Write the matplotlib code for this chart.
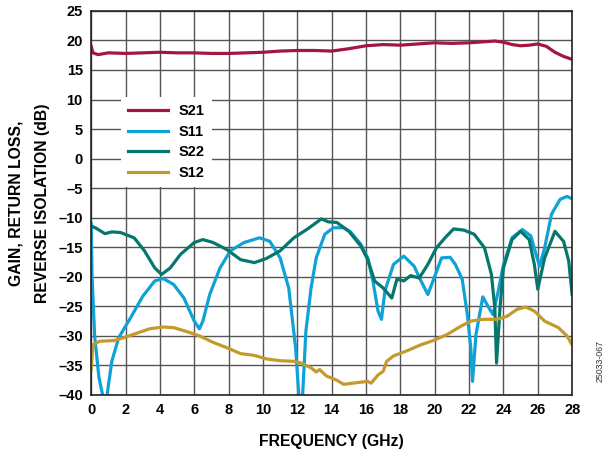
import matplotlib
matplotlib.use("Agg")
import matplotlib.pyplot as plt

plt.rcParams['font.family'] = ['Liberation Sans', 'DejaVu Sans']

# ---- data ----
s21_f = [0, 0.1, 0.4, 1, 2, 3, 4, 5, 6, 7, 8, 9, 10, 11, 12, 13, 14, 15, 16, 17, 18, 19, 20, 21, 22, 23, 23.5, 24, 24.5, 25, 25.5, 26, 26.5, 27, 27.5, 28]
s21_db = [19.0, 17.9, 17.6, 17.9, 17.8, 17.9, 18.0, 17.9, 17.9, 17.8, 17.8, 17.9, 18.0, 18.2, 18.3, 18.3, 18.2, 18.6, 19.1, 19.3, 19.2, 19.4, 19.6, 19.5, 19.6, 19.8, 19.9, 19.7, 19.3, 19.1, 19.2, 19.4, 19.0, 18.0, 17.3, 16.8]

s11_f = [0, 0.05, 0.2, 0.45, 0.7, 0.9, 1.2, 1.6, 2.3, 3.0, 3.7, 4.2, 4.8, 5.4, 6.0, 6.3, 6.5, 6.9, 7.5, 8.1, 8.9, 9.8, 10.4, 11.0, 11.5, 11.9, 12.1, 12.3, 12.5, 12.8, 13.1, 13.6, 14.1, 14.7, 15.1, 15.7, 16.1, 16.4, 16.7, 16.9, 17.1, 17.6, 18.2, 18.8, 19.2, 19.6, 19.9, 20.4, 20.9, 21.2, 21.6, 21.9, 22.1, 22.2, 22.4, 22.8, 23.1, 23.4, 23.7, 24.0, 24.5, 25.1, 25.6, 25.9, 26.1, 26.4, 26.8, 27.3, 27.7, 28.0]
s11_db = [-11.0, -20.0, -30.0, -37.0, -40.5, -40.5, -34.3, -30.3, -26.9, -23.3, -20.7, -20.3, -21.3, -23.6, -27.5, -28.8, -27.5, -23.0, -18.5, -15.6, -14.2, -13.4, -14.0, -16.8, -21.9, -32.0, -40.5, -40.5, -29.2, -21.9, -16.8, -12.8, -11.7, -11.7, -12.4, -14.5, -16.8, -20.7, -25.8, -27.2, -22.4, -17.9, -16.5, -18.2, -20.7, -23.0, -20.7, -16.8, -16.7, -17.9, -20.4, -26.4, -32.0, -37.7, -29.8, -23.4, -25.0, -26.4, -22.4, -18.0, -13.4, -12.0, -13.1, -16.2, -18.2, -15.1, -9.4, -6.9, -6.4, -6.8]

s22_f = [0, 0.3, 0.8, 1.2, 1.7, 2.5, 3.1, 3.7, 4.1, 4.6, 5.2, 6.0, 6.5, 7.1, 7.9, 8.7, 9.5, 10.2, 11.0, 11.8, 12.6, 13.4, 13.8, 14.3, 15.0, 15.7, 16.1, 16.5, 17.0, 17.5, 17.8, 18.2, 18.6, 19.1, 19.6, 20.1, 20.6, 21.1, 21.7, 22.3, 22.9, 23.3, 23.5, 23.6, 23.8, 24.0, 24.5, 25.0, 25.5, 25.8, 26.0, 26.4, 27.0, 27.5, 27.8, 28.0]
s22_db = [-11.4, -11.8, -12.7, -12.4, -12.5, -13.4, -15.6, -18.5, -19.6, -18.5, -16.2, -14.2, -13.7, -14.2, -15.4, -17.1, -17.6, -16.9, -15.6, -13.4, -11.9, -10.2, -10.7, -10.8, -12.3, -14.8, -17.1, -20.7, -21.9, -23.6, -20.4, -20.7, -19.8, -20.2, -17.9, -15.1, -13.4, -11.9, -12.1, -12.8, -15.1, -19.6, -25.3, -34.6, -25.3, -18.5, -13.7, -12.3, -13.7, -17.9, -22.1, -16.8, -12.3, -14.0, -17.3, -23.0]

s12_f = [0, 0.1, 0.5, 1.3, 1.9, 2.7, 3.4, 4.2, 4.8, 5.6, 6.3, 7.1, 7.9, 8.7, 9.5, 10.2, 11.0, 11.8, 12.2, 12.8, 13.1, 13.3, 13.7, 14.3, 14.7, 15.5, 16.1, 16.3, 16.7, 17.0, 17.2, 17.6, 18.4, 19.2, 19.9, 20.7, 21.5, 22.1, 22.8, 23.6, 24.2, 24.8, 25.3, 25.8, 26.4, 27.2, 27.7, 28.0]
s12_db = [-35.7, -31.5, -30.9, -30.8, -30.3, -29.5, -28.8, -28.5, -28.6, -29.3, -30.0, -31.1, -32.0, -33.0, -33.3, -33.9, -34.2, -34.3, -34.6, -35.4, -36.1, -35.7, -36.8, -37.5, -38.2, -37.9, -37.7, -38.0, -36.6, -36.0, -34.3, -33.4, -32.5, -31.5, -30.8, -29.8, -28.4, -27.5, -27.2, -27.2, -26.7, -25.5, -25.1, -25.8, -27.5, -28.6, -30.0, -31.5]

x_ticks = list(range(0, 29, 2))
y_ticks = list(range(-40, 26, 5))

fig = plt.figure(figsize=(6.08, 4.54), dpi=100)
ax = fig.add_axes([0.150, 0.130, 0.791, 0.846])

lw = 2.3
ax.plot(s21_f, s21_db, color='#A3173F', lw=lw, label='S21', solid_joinstyle='round')
ax.plot(s11_f, s11_db, color='#0FA2D6', lw=lw, label='S11', solid_joinstyle='round')
ax.plot(s22_f, s22_db, color='#06776C', lw=lw, label='S22', solid_joinstyle='round')
ax.plot(s12_f, s12_db, color='#C49A2E', lw=lw, label='S12', solid_joinstyle='round')

ax.set_xlim(0, 28)
ax.set_ylim(-40, 25)
ax.set_xticks(x_ticks)
ax.set_yticks(y_ticks)
ax.set_yticklabels([str(v).replace('-', '\u2013') for v in y_ticks])
ax.grid(True, color='#555555', lw=1.0)
ax.set_axisbelow(True)
ax.tick_params(length=0, pad=6, labelsize=10.5)
for lab in ax.get_xticklabels() + ax.get_yticklabels():
    lab.set_fontweight('bold')
for sp in ax.spines.values():
    sp.set_color('#222222')
    sp.set_linewidth(1.2)

ax.set_xlabel('FREQUENCY (GHz)', fontweight='bold', fontsize=11.3, labelpad=12)
ax.set_ylabel('GAIN, RETURN LOSS,\nREVERSE ISOLATION (dB)', fontweight='bold', fontsize=11.3, labelpad=6, linespacing=1.9)

leg = ax.legend(loc='upper left', bbox_to_anchor=(0.047, 0.795), frameon=True, fancybox=False,
                edgecolor='white', framealpha=1.0, handlelength=2.75, handletextpad=0.7,
                labelspacing=0.45, prop={'weight': 'bold', 'size': 10.5}, borderpad=0.5)
leg.get_frame().set_linewidth(0)

fig.text(0.995, 0.205, '25033-067', rotation=90, fontsize=6.3, ha='right', va='center', color='#333333')

fig.savefig('out.png', dpi=100)
